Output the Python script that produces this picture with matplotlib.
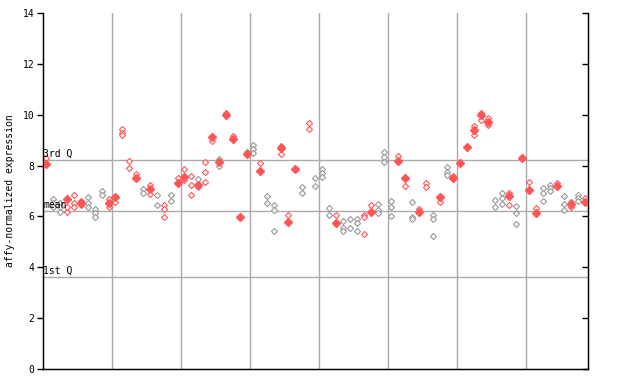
import numpy as np
import matplotlib
matplotlib.use("Agg")
import matplotlib.pyplot as plt

# values per sample column (hollow diamonds) and highlighted values (filled)
hollow = [
    [8.3], [6.67, 6.51, 6.36], [6.51, 6.36, 6.16], [6.16, 6.36], [6.83, 6.51, 6.36],
    [6.6, 6.45], [6.75, 6.51, 6.36], [6.28, 6.12, 5.97], [6.99, 6.83], [6.67, 6.36],
    [6.55], [9.43, 9.27, 9.19], [8.17, 7.89], [7.66], [7.07, 6.91],
    [7.22, 6.87], [6.83, 6.44], [6.44, 6.28, 5.97], [6.83, 6.59], [7.50],
    [7.85, 7.42], [7.58, 7.22, 6.83], [7.46, 7.14], [8.13, 7.73, 7.34], [8.95],
    [8.25, 7.97], [10.08], [9.15], [], [8.55],
    [8.80, 8.64, 8.48], [8.09], [6.79, 6.51], [6.44, 6.24, 5.41], [8.76, 8.44],
    [6.04], [], [7.14, 6.91], [9.66, 9.43], [7.50, 7.18],
    [7.85, 7.70, 7.54], [6.32, 6.04], [6.04], [5.81, 5.53, 5.41], [5.89, 5.53],
    [5.89, 5.73, 5.41], [6.04, 5.97, 5.30], [6.44], [6.48, 6.24, 6.12], [8.52, 8.32, 8.13],
    [6.59, 6.36, 6.00], [8.36], [7.18], [6.55, 5.97, 5.89], [6.28],
    [7.30, 7.14], [6.04, 5.89, 5.22], [6.55], [7.93, 7.73, 7.62], [7.58],
    [], [], [9.56, 9.21], [10.08, 9.78], [9.86, 9.58],
    [6.63, 6.36], [6.91, 6.71, 6.48], [6.91, 6.44], [6.40, 6.12, 5.69], [],
    [7.34], [6.32], [7.10, 6.91, 6.59], [7.22, 7.10, 6.99], [7.30],
    [6.79, 6.48, 6.24], [6.55, 6.36], [6.83, 6.71, 6.59], [6.71],
]
filled = [
    [8.05], [], [], [6.67], [],
    [6.51], [], [], [], [6.51],
    [6.75], [], [], [7.50], [],
    [7.07], [], [], [], [7.30],
    [7.54], [], [7.22], [], [9.11],
    [8.13], [9.97], [9.03], [5.97], [8.44],
    [], [7.77], [], [], [8.68],
    [5.77], [7.85], [], [], [],
    [], [], [5.73], [], [],
    [], [], [6.16], [], [],
    [], [8.17], [7.50], [], [6.16],
    [], [], [6.75], [], [7.50],
    [8.09], [8.74], [9.39], [9.97], [9.70],
    [], [], [6.79], [], [8.28],
    [7.03], [6.12], [], [], [7.18],
    [], [6.48], [], [6.55],
]
grey_cols = [1, 2, 6, 7, 8, 14, 16, 18, 22, 25, 29, 30, 32, 33, 37, 39, 40, 41,
             43, 44, 45, 48, 49, 50, 53, 56, 58, 65, 66, 68, 72, 73, 75, 77]

q3, mean_val, q1 = 8.22, 6.21, 3.62
group_size = 10

red = "#ff5555"
grey = "#999999"

fig = plt.figure(figsize=(6.4, 3.84), dpi=100)
ax = fig.add_axes([43 / 640, 15 / 384, 545 / 640, 356 / 384])

n = len(hollow)
for b in np.arange(group_size - 0.5, n - 1, group_size):
    ax.axvline(b, color="#aaaaaa", lw=1, zorder=1)
for v in [q3, mean_val, q1]:
    ax.axhline(v, color="#aaaaaa", lw=1, zorder=1)

for i in range(n):
    c = grey if i in grey_cols else red
    if hollow[i]:
        ax.plot([i] * len(hollow[i]), hollow[i], "D", ms=3.1, mfc="white",
                mec=c, mew=0.8, ls="none", zorder=3)
    if filled[i]:
        ax.plot([i] * len(filled[i]), filled[i], "D", ms=3.6, mfc=red,
                mec=red, ls="none", zorder=4)

mono = "DejaVu Sans Mono"
for lab, v in [("3rd Q", q3), ("mean", mean_val), ("1st Q", q1)]:
    ax.text(0.0, v + 0.03, lab, fontsize=7, family=mono, ha="left", va="bottom",
            transform=ax.get_yaxis_transform(), zorder=5)

ax.set_xlim(-0.5, n - 0.5)
ax.set_ylim(0, 14)
ax.set_yticks(np.arange(0, 15, 2))
ax.set_yticklabels([str(t) for t in range(0, 15, 2)], family=mono, fontsize=7)
ax.set_xticks([])
ax.tick_params(axis="y", direction="out", length=4, width=1, pad=2)
ax.set_ylabel("affy-normalized expression", family=mono, fontsize=7, labelpad=6)
ax.spines["top"].set_visible(False)
for s in ["left", "right", "bottom"]:
    ax.spines[s].set_linewidth(1)

# right-hand ticks point inward
ax2 = ax.twinx()
ax2.set_ylim(ax.get_ylim())
ax2.set_yticks(np.arange(0, 15, 2))
ax2.tick_params(axis="y", direction="in", length=4, width=1, labelright=False)
ax2.spines["top"].set_visible(False)

fig.savefig("out.png", dpi=100)
